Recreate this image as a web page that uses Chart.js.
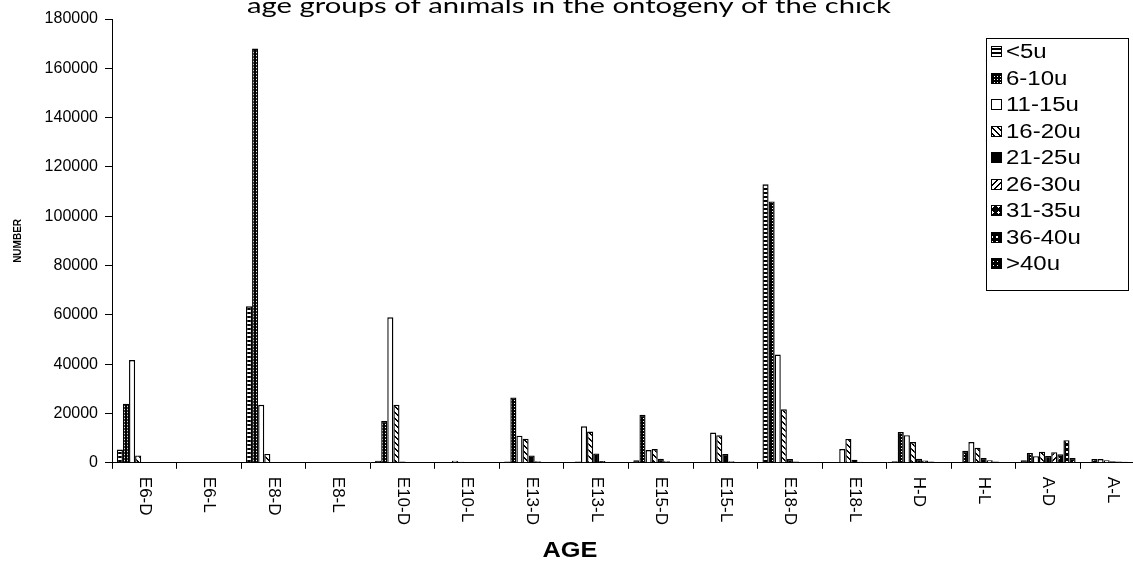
<!DOCTYPE html>
<html>
<head>
<meta charset="utf-8">
<script src="https://cdn.jsdelivr.net/npm/chart.js@4.4.1/dist/chart.umd.min.js"></script>
<style>
  html, body { margin: 0; padding: 0; background: #fff; overflow: hidden; }
  /* the scanned chart runs a little past the right edge of the page */
  #wrap { width: 1145px; height: 571px; position: relative; }
</style>
</head>
<body>
<div id="wrap"><canvas id="chart"></canvas></div>
<script>
// =====================
// Data
// =====================
const categories = ['E6-D', 'E6-L', 'E8-D', 'E8-L', 'E10-D', 'E10-L', 'E13-D', 'E13-L',
  'E15-D', 'E15-L', 'E18-D', 'E18-L', 'H-D', 'H-L', 'A-D', 'A-L'];

const seriesNames = ['<5u', '6-10u', '11-15u', '16-20u', '21-25u', '26-30u', '31-35u', '36-40u', '>40u'];

const yTicks = [0, 20000, 40000, 60000, 80000, 100000, 120000, 140000, 160000, 180000];

const u0_5   = [5400, 0, 63500, 0, 800, 0, 500, 0, 1000, 0, 113000, 0, 600, 300, 1000, 300];
const u6_10  = [24000, 0, 168000, 0, 17000, 0, 26500, 500, 19500, 300, 106000, 300, 12500, 4900, 4000, 1500];
const u11_15 = [41700, 0, 23500, 0, 59000, 800, 11000, 14800, 5200, 12300, 43900, 5600, 11200, 8400, 2700, 1500];
const u16_20 = [3000, 0, 3600, 0, 23500, 400, 9800, 12700, 5600, 11200, 21700, 9700, 8400, 6100, 4500, 1000];
const u21_25 = [200, 0, 300, 0, 500, 0, 3000, 3800, 1600, 3600, 1500, 1200, 1600, 2000, 2800, 600];
const u26_30 = [0, 0, 0, 0, 0, 0, 600, 700, 600, 600, 500, 400, 900, 1000, 4300, 500];
const u31_35 = [0, 0, 0, 0, 0, 0, 200, 200, 200, 200, 200, 200, 500, 500, 3500, 400];
const u36_40 = [0, 0, 0, 0, 0, 0, 0, 0, 0, 0, 0, 0, 300, 300, 9200, 300];
const u40up  = [0, 0, 0, 0, 0, 0, 0, 0, 0, 0, 0, 0, 200, 200, 2000, 200];

const seriesValues = [u0_5, u6_10, u11_15, u16_20, u21_25, u26_30, u31_35, u36_40, u40up];

const titleText = 'age groups of animals in the ontogeny of the chick';

// =====================
// Fill patterns (black & white print)
// =====================
const fillKinds = ['hstripe', 'dots', 'white', 'hatch', 'black', 'slash', 'cross', 'squares', 'dark'];

function makeFill(kind) {
  if (kind === 'white') return '#fff';
  if (kind === 'black') return '#000';
  const c = document.createElement('canvas');
  const g = c.getContext('2d');
  let n = 4;
  if (kind === 'hatch' || kind === 'slash' || kind === 'cross') n = 6;
  if (kind === 'squares') n = 5;
  if (kind === 'dots') n = 3;
  c.width = n; c.height = n;
  if (kind === 'hstripe') {
    g.fillStyle = '#fff'; g.fillRect(0, 0, n, n);
    g.fillStyle = '#000'; g.fillRect(0, 0, n, 2);
  } else if (kind === 'dots') {
    g.fillStyle = '#000'; g.fillRect(0, 0, n, n);
    g.fillStyle = '#fff'; g.fillRect(1, 1, 1, 1);
  } else if (kind === 'hatch' || kind === 'slash') {
    g.fillStyle = '#fff'; g.fillRect(0, 0, n, n);
    g.fillStyle = '#000';
    for (let x = 0; x < n; x++) {
      for (let y = 0; y < n; y++) {
        const d = kind === 'hatch' ? (x - y + n) % n : (x + y) % n;
        if (d < 2) g.fillRect(x, y, 1, 1);
      }
    }
  } else if (kind === 'cross') {
    g.fillStyle = '#000'; g.fillRect(0, 0, n, n);
    g.fillStyle = '#fff'; g.fillRect(2, 1, 1, 3); g.fillRect(1, 2, 3, 1);
  } else if (kind === 'squares') {
    g.fillStyle = '#000'; g.fillRect(0, 0, n, n);
    g.fillStyle = '#fff'; g.fillRect(1, 1, 2, 2);
  } else if (kind === 'dark') {
    g.fillStyle = '#000'; g.fillRect(0, 0, n, n);
    g.fillStyle = '#fff'; g.fillRect(1, 1, 1, 1);
  }
  return g.createPattern(c, 'repeat');
}

const fills = fillKinds.map(makeFill);

// =====================
// Text drawn by hand (scan looks stretched sideways)
// =====================
function stretchText(ctx, text, x, y, font, sx, align) {
  ctx.save();
  ctx.font = font;
  ctx.textAlign = align || 'center';
  ctx.textBaseline = 'alphabetic';
  ctx.translate(x, y);
  ctx.scale(sx, 1);
  ctx.fillText(text, 0, 0);
  ctx.restore();
}

const scanText = {
  id: 'scanText',
  afterDraw(chart) {
    const ctx = chart.ctx;
    const xs = chart.scales.x;
    ctx.save();
    ctx.fillStyle = '#000';

    // category labels, turned clockwise
    ctx.font = '17px "Liberation Sans", Arial, sans-serif';
    ctx.textAlign = 'left';
    ctx.textBaseline = 'middle';
    categories.forEach((c, i) => {
      ctx.save();
      ctx.translate(xs.getPixelForTick(i), xs.top + 14);
      ctx.rotate(Math.PI / 2);
      ctx.fillText(c, 0, 0);
      ctx.restore();
    });

    stretchText(ctx, titleText, 569, 13, '22px Lato, sans-serif', 1.33);
    stretchText(ctx, 'AGE', 570, 557, 'bold 22px "Liberation Sans", Arial, sans-serif', 1.15);

    // legend
    const lx = 986, ly = 38, lw = 142, lh = 252;
    ctx.fillStyle = '#fff';
    ctx.fillRect(lx, ly, lw, lh);
    ctx.strokeStyle = '#000';
    ctx.lineWidth = 1;
    ctx.strokeRect(lx + 0.5, ly + 0.5, lw, lh);
    seriesNames.forEach((name, i) => {
      const yc = 51 + i * 26.5;
      ctx.fillStyle = fills[i];
      ctx.fillRect(991, Math.round(yc - 5), 10, 10);
      ctx.strokeRect(991.5, Math.round(yc - 5) + 0.5, 10, 10);
      ctx.fillStyle = '#000';
      stretchText(ctx, name, 1006, yc + 7, '20px "Liberation Sans", Arial, sans-serif', 1.2, 'left');
    });
    ctx.restore();
  }
};

// =====================
// Chart
// =====================
const labelFont = '"Liberation Sans", Arial, sans-serif';

new Chart(document.getElementById('chart'), {
  type: 'bar',
  data: {
    labels: categories,
    datasets: seriesNames.map((name, i) => ({
      label: name,
      data: seriesValues[i],
      backgroundColor: fills[i],
      borderColor: '#000',
      borderWidth: 1.4,
      categoryPercentage: 0.85,
      barPercentage: 1.0
    }))
  },
  options: {
    responsive: true,
    maintainAspectRatio: false,
    animation: false,
    layout: { padding: { top: 19, right: 0, bottom: 38, left: 0 } },
    plugins: {
      legend: { display: false },
      title: { display: false },
      tooltip: { enabled: false }
    },
    scales: {
      x: {
        grid: { drawOnChartArea: false, offset: true, tickLength: 6, color: '#000' },
        border: { color: '#000' },
        ticks: {
          color: 'rgba(0,0,0,0)',
          font: { size: 17, family: labelFont },
          minRotation: 90,
          maxRotation: 90,
          padding: 8,
          autoSkip: false
        }
      },
      y: {
        min: 0,
        max: 180000,
        afterBuildTicks: (s) => { s.ticks = yTicks.map((v) => ({ value: v })); },
        afterFit: (s) => { s.width = 112; },
        grid: { drawOnChartArea: false, tickLength: 7, color: '#000' },
        border: { color: '#000' },
        ticks: {
          color: '#000',
          font: { size: 16, family: labelFont },
          padding: 7,
          callback: (v) => String(v)
        },
        title: {
          display: true,
          text: 'NUMBER',
          color: '#000',
          font: { size: 10, weight: 'bold', family: labelFont },
          padding: { top: 12, bottom: 0 }
        }
      }
    }
  },
  plugins: [scanText]
});
</script>
</body>
</html>
